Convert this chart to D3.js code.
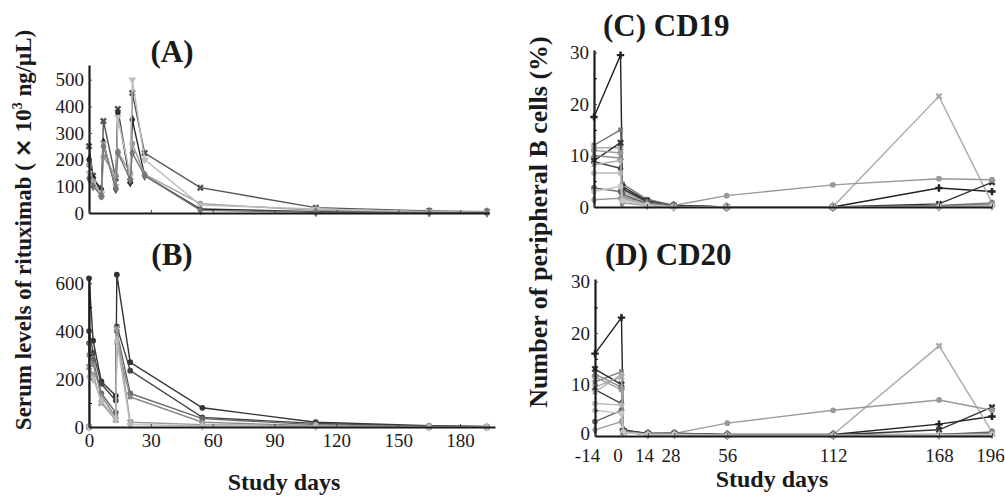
<!DOCTYPE html>
<html>
<head>
<meta charset="utf-8">
<script src="https://cdn.jsdelivr.net/npm/d3@7"></script>
<style>
body { margin: 0; background: #fff; }
text { font-family: "Liberation Serif", "Times New Roman", serif; fill: #1a1a1a; }
</style>
</head>
<body>
<div id="chart"></div>
<script>
var width = 1005,
    height = 497;

// ---- data ----
// panel A: weekly dosing, serum levels x10^3 ng/uL
var daysA = [0, 2, 6, 7, 13, 14, 20, 21, 27, 54, 110, 165, 193];
var serA1 = [250, 140, 70, 345, 130, 390, 120, 450, 225, 95, 20, 8, 5];
var serA2 = [200, 130, 90, 265, 90, 375, 115, 350, 140, 15, 5, 3, 2];
var serA3 = [180, 120, 60, 210, 140, 230, 150, 260, 145, 35, 10, 5, 3];
var serA4 = [150, 110, 75, 260, 100, 360, 140, 500, 200, 30, 15, 5, 3];
var serA5 = [130, 100, 65, 250, 95, 225, 125, 225, 140, 10, 3, 2, 1];

// panel B: two doses
var daysB = [0, 0, 2, 6, 13, 13.5, 20, 55, 110, 165, 193];
var serB1 = [0, 620, 360, 190, 130, 635, 270, 80, 20, 5, 2];
var serB2 = [0, 400, 310, 180, 110, 420, 235, 40, 15, 3, 1];
var serB3 = [0, 350, 280, 140, 60, 400, 140, 35, 10, 2, 1];
var serB4 = [0, 300, 260, 130, 40, 350, 125, 20, 5, 1, 0];
var serB5 = [0, 250, 220, 100, 30, 410, 20, 10, 5, 0, 0];
var serB6 = [0, 210, 200, 110, 35, 360, 10, 5, 2, 0, 0];

// panels C and D: % peripheral B cells
var daysCD = [-14, 0, 1, 14, 28, 56, 112, 168, 196];
var cd19 = [
  [17.5, 29.5, 3.5, 1.2, 0.3, 0, 0, 3.7, 3.0],
  [12, 15, 4.5, 1.5, 0.3, 0, 0, 0.3, 0.8],
  [11.5, 11.5, 2.5, 0.8, 0.2, 0, 0, 21.5, 0.8],
  [9, 12.5, 4, 1.2, 0.3, 0, 0, 0.6, 4.8],
  [11, 10.5, 3, 1, 0.3, 2.2, 4.3, 5.5, 5.3],
  [8.8, 7.5, 3.5, 1.0, 0.2, 0, 0, 0.2, 0.5],
  [10, 9.5, 2, 0.8, 0.1, 0, 0, 0.2, 0.5],
  [6.6, 6.6, 1.5, 0.5, 0.1, 0, 0, 0, 0.3],
  [3.7, 3.0, 2.5, 0.6, 0.1, 0, 0, 0, 0.3],
  [8.2, 9, 1.7, 0.5, 0.1, 0, 0, 0, 0.2],
  [1.4, 1.7, 0.8, 0.3, 0, 0, 0, 0, 0.2],
  [3, 4, 1.2, 0.4, 0, 0, 0, 0, 0.2]
];
var cd20 = [
  [16, 23, 1.2, 0.5, 0.5, 0.3, 0.3, 2.3, 3.8],
  [10.5, 12.5, 1.0, 0.5, 0.5, 0.3, 0.3, 0.3, 0.8],
  [9.5, 11.5, 0.8, 0.3, 0.4, 0.2, 0.3, 17.5, 0.8],
  [13, 10, 1.0, 0.5, 0.5, 0.2, 0.2, 1.2, 5.6],
  [11.5, 9, 0.9, 0.4, 0.5, 2.5, 5.0, 7.0, 5.0],
  [9, 6.3, 1.0, 0.4, 0.4, 0.2, 0.2, 0.3, 0.6],
  [12, 9.5, 0.7, 0.3, 0.3, 0.2, 0.2, 0.3, 0.5],
  [6.3, 6, 0.8, 0.3, 0.3, 0.1, 0.1, 0.2, 0.3],
  [2.8, 5, 0.9, 0.4, 0.6, 0.2, 0.2, 0.2, 0.4],
  [8.5, 12, 0.8, 0.3, 0.3, 0.1, 0.1, 0.2, 0.3],
  [1.2, 2.8, 0.8, 0.3, 0.3, 0.1, 0.1, 0.2, 0.3],
  [5, 4.4, 0.7, 0.3, 0.3, 0.1, 0.1, 0.2, 0.3]
];

var ticksAy = [0, 100, 200, 300, 400, 500];
var ticksBy = [0, 200, 400, 600];
var minorBy = [100, 300, 500];
var ticksABx = [0, 30, 60, 90, 120, 150, 180];
var ticksCDy = [0, 10, 20, 30];
var minorCDy = [5, 15, 25];
var ticksCDx = [-14, 0, 14, 28, 56, 112, 168, 196];

// grey shades + marker shapes
var greysA = ["#555", "#2a2a2a", "#999", "#bdbdbd", "#777"];
var shapesA = ["x", "d", "o", "v", "d"];
var greysB = ["#333", "#444", "#666", "#888", "#999", "#bbb"];
var shapesB = ["o", "o", "o", "s", "x", "d"];
var greysCD = ["#222", "#777", "#aaa", "#333", "#999", "#444", "#888", "#bbb", "#666", "#aaa", "#999", "#c4c4c4"];
var shapesCD = ["+", "s", "x", "x", "o", "d", "t", "o", "o", "s", "d", "o"];

var svg = d3.select("#chart")
    .append("svg")
    .attr("width", width)
    .attr("height", height);

function symbolPath(shape) {
  var t = d3.symbolCircle, size = 26;
  if (shape == "x" || shape == "+") { t = d3.symbolCross; size = 30; }
  if (shape == "d") { t = d3.symbolDiamond; size = 30; }
  if (shape == "s") { t = d3.symbolSquare; size = 22; }
  if (shape == "t" || shape == "v") { t = d3.symbolTriangle; size = 26; }
  return d3.symbol().type(t).size(size)();
}
function symbolRot(shape) {
  if (shape == "x") return 45;
  if (shape == "v") return 180;
  return 0;
}

function drawPanel(p) {
  var g = svg.append("g");

  // data lines
  p.series.forEach(function(vals, i) {
    var pts = vals.map(function(v, j) { return [p.days[j], v]; });
    var line = d3.line()
        .x(function(d) { return p.x(d[0]); })
        .y(function(d) { return p.y(d[1]); });
    g.append("path")
        .datum(pts)
        .attr("d", line)
        .attr("fill", "none")
        .attr("stroke", p.colors[i])
        .attr("stroke-width", 1.4);
    g.selectAll(null)
        .data(pts)
        .enter()
        .append("path")
        .attr("d", symbolPath(p.shapes[i]))
        .attr("transform", function(d) {
          return "translate(" + p.x(d[0]) + "," + p.y(d[1]) + ") rotate(" + symbolRot(p.shapes[i]) + ")";
        })
        .attr("fill", p.colors[i]);
  });

  // y axis
  var ya = g.append("g")
      .attr("transform", "translate(" + p.x.range()[0] + ",0)")
      .call(d3.axisLeft(p.y).tickValues(p.yTicks).tickSizeInner(-3).tickSizeOuter(0).tickPadding(5));
  if (p.yMinor) {
    g.append("g")
        .attr("transform", "translate(" + p.x.range()[0] + ",0)")
        .call(d3.axisLeft(p.y).tickValues(p.yMinor).tickSizeInner(-3).tickSizeOuter(0).tickFormat(""))
        .select(".domain").remove();
  }
  if (p.yZeroDy) {
    ya.selectAll(".tick text").filter(function(d) { return d == 0; }).attr("dy", p.yZeroDy);
  }

  // x axis
  var xa = g.append("g")
      .attr("transform", "translate(0," + p.y.range()[0] + ")")
      .call(d3.axisBottom(p.x).tickValues(p.xTicks).tickSizeInner(-3).tickSizeOuter(0)
        .tickPadding(p.xPad || 6)
        .tickFormat(function(d) { return p.xLabels ? String(d) : ""; }));
  if (p.xShift) {
    xa.selectAll(".tick text").attr("dx", function(d) { return p.xShift(d); });
  }

  [ya, xa].forEach(function(a) {
    a.attr("font-family", "Liberation Serif");
    a.select(".domain").attr("stroke", "#1a1a1a").attr("stroke-width", 2.2);
    a.selectAll(".tick line").attr("stroke", "#444");
    a.selectAll(".tick text").attr("fill", "#1a1a1a")
        .style("font-family", '"Liberation Serif", serif').style("font-size", "19px");
  });

  svg.append("text")
      .attr("x", p.title[1])
      .attr("y", p.title[2])
      .attr("text-anchor", p.title[3])
      .style("font-size", "31px")
      .style("font-weight", "bold")
      .text(p.title[0]);
}

// panel A
drawPanel({
  x: d3.scaleLinear().domain([0, 194]).range([89, 489]),
  y: d3.scaleLinear().domain([0, 555]).range([213, 65]),
  days: daysA,
  series: [serA1, serA2, serA3, serA4, serA5],
  colors: greysA, shapes: shapesA,
  yTicks: ticksAy, xTicks: ticksABx, xLabels: false,
  title: ["(A)", 172, 62, "middle"]
});

// panel B
drawPanel({
  x: d3.scaleLinear().domain([0, 197]).range([89, 495]),
  y: d3.scaleLinear().domain([0, 617]).range([427, 279]),
  days: daysB,
  series: [serB1, serB2, serB3, serB4, serB5, serB6],
  colors: greysB, shapes: shapesB,
  yTicks: ticksBy, yMinor: minorBy, xTicks: ticksABx, xLabels: true, xPad: 7,
  title: ["(B)", 172, 265, "middle"]
});

// panel C
drawPanel({
  x: d3.scaleLinear().domain([-14, 196]).range([594, 992]),
  y: d3.scaleLinear().domain([0, 30.5]).range([207, 50]),
  days: daysCD,
  series: cd19,
  colors: greysCD, shapes: shapesCD,
  yTicks: ticksCDy, yMinor: minorCDy, xTicks: ticksCDx, xLabels: false,
  title: ["(C) CD19", 603, 36, "start"]
});

// panel D
drawPanel({
  x: d3.scaleLinear().domain([-14, 196]).range([595, 992]),
  y: d3.scaleLinear().domain([0, 30.5]).range([436, 279]),
  days: daysCD,
  series: cd20,
  colors: greysCD, shapes: shapesCD,
  yTicks: ticksCDy, yMinor: minorCDy, xTicks: ticksCDx, xLabels: true, xPad: 13,
  yZeroDy: "0.16em",
  xShift: function(d) { return d == -14 ? -8 : (d < 50 ? -4 : (d == 196 ? -2 : 0)); },
  title: ["(D) CD20", 605, 265, "start"]
});

// axis titles
var yl = svg.append("text")
    .attr("transform", "translate(31,230) rotate(-90)")
    .attr("text-anchor", "middle")
    .style("font-size", "23px")
    .style("font-weight", "bold");
yl.append("tspan").text("Serum levels of rituximab ( ");
yl.append("tspan").style("font-family", '"DejaVu Sans", sans-serif').text("\u00d7");
yl.append("tspan").text(" 10");
yl.append("tspan").attr("dy", -9).style("font-size", "14px").text("3");
yl.append("tspan").attr("dy", 9).text(" ng/\u03bcL)");

svg.append("text")
    .attr("transform", "translate(547,222) rotate(-90)")
    .attr("text-anchor", "middle")
    .style("font-size", "26px")
    .style("font-weight", "bold")
    .text("Number of peripheral B cells (%)");

svg.append("text")
    .attr("x", 284).attr("y", 490)
    .attr("text-anchor", "middle")
    .style("font-size", "24px")
    .style("font-weight", "bold")
    .text("Study days");

svg.append("text")
    .attr("x", 772).attr("y", 487)
    .attr("text-anchor", "middle")
    .style("font-size", "24px")
    .style("font-weight", "bold")
    .text("Study days");
</script>
</body>
</html>
